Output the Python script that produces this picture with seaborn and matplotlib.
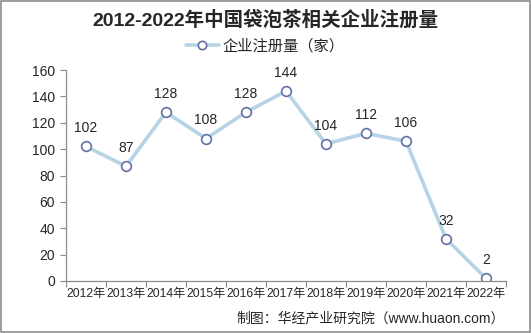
import matplotlib
matplotlib.use("Agg")
import matplotlib.pyplot as plt
import seaborn as sns
import pandas as pd
from matplotlib.patches import Rectangle

years = ["2012年", "2013年", "2014年", "2015年", "2016年", "2017年",
         "2018年", "2019年", "2020年", "2021年", "2022年"]
registrations = [102, 87, 128, 108, 128, 144, 104, 112, 106, 32, 2]
y_ticks = [0, 20, 40, 60, 80, 100, 120, 140, 160]
series_name = "企业注册量（家）"
title = "2012-2022年中国袋泡茶相关企业注册量"
source = "制图：华经产业研究院（www.huaon.com）"

sns.set_theme(style="white")
mixed = ["Liberation Sans", "Noto Sans CJK SC", "DejaVu Sans"]
plt.rcParams["font.family"] = mixed

df = pd.DataFrame({"year": years, "count": registrations})
df["pos"] = range(len(df))

fig = plt.figure(figsize=(5.31, 3.33), dpi=100)
ax = fig.add_axes([66 / 531, 1 - 281 / 333, (506 - 66) / 531, (281 - 70) / 333])

line_color = "#b7d3e6"
edge_color = "#6470a5"
sns.lineplot(data=df, x="pos", y="count", ax=ax, color=line_color, lw=2.6,
             marker="o", markersize=7, markerfacecolor="white",
             markeredgecolor=edge_color, markeredgewidth=1.2, label=series_name,
             legend=False)

for p, v in zip(df["pos"], df["count"]):
    ax.annotate(str(v), (p, v), xytext=(0, 8), textcoords="offset points",
                ha="center", va="bottom", fontsize=10, color="#262626")

ax.set_xlim(-0.5, len(years) - 0.5)
ax.set_ylim(0, 160)
ax.set_yticks(y_ticks)
ax.set_yticklabels([str(t) for t in y_ticks], fontsize=10, color="#262626")
ax.set_xticks(df["pos"])
ax.set_xticklabels(years, fontsize=8.7, color="#262626")
ax.set_xticks([i - 0.5 for i in range(len(years) + 1)], minor=True)
ax.set_xlabel("")
ax.set_ylabel("")

for s in ["top", "right"]:
    ax.spines[s].set_visible(False)
for s in ["left", "bottom"]:
    ax.spines[s].set_color("#8c8c8c")
    ax.spines[s].set_linewidth(0.9)

ax.tick_params(axis="y", which="major", direction="out", length=4, width=0.8,
               color="#8c8c8c", pad=4, left=True)
ax.tick_params(axis="x", which="major", length=0, pad=5, bottom=False)
ax.tick_params(axis="x", which="minor", direction="out", length=4, width=0.8,
               color="#8c8c8c", bottom=True)

handles = [plt.Line2D([], [], color=line_color, lw=2.6, marker="o", markersize=6,
                      markerfacecolor="white", markeredgecolor=edge_color,
                      markeredgewidth=1.2)]
fig.legend(handles, [series_name], loc="center", bbox_to_anchor=(265 / 531, 1 - 46 / 333),
           frameon=False, handlelength=2.2, handletextpad=0.2,
           labelcolor="#262626", prop={"family": ["Noto Sans CJK SC"], "size": 11})

fig.text(0.5, 1 - 20 / 333, title, ha="center", va="center", fontsize=14,
         fontweight="bold", color="#262626")
fig.text(505 / 531, 1 - 318 / 333, source, ha="right", va="center", fontsize=10,
         color="#262626")

fig.patches.append(Rectangle((0.001, 0.002), 0.997, 0.995, transform=fig.transFigure,
                             fill=False, edgecolor="#8c8c8c", lw=1.2))

fig.savefig("out.png", dpi=100)
